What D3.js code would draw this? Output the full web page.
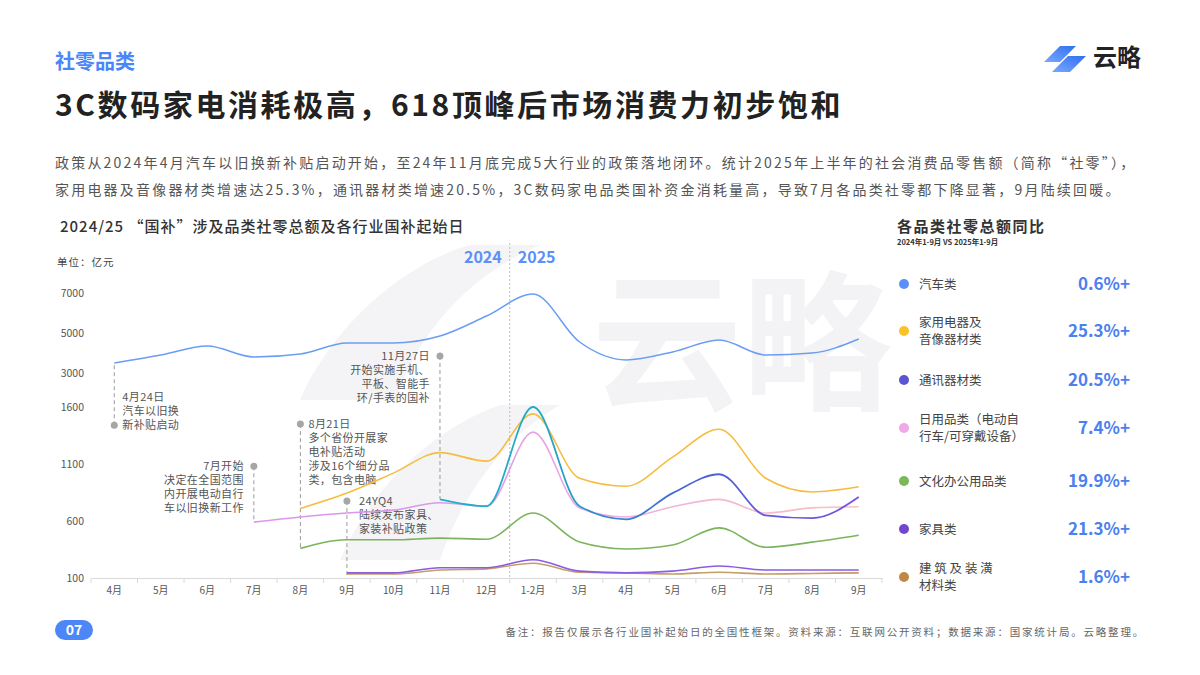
<!DOCTYPE html>
<html>
<head>
<meta charset="utf-8">
<title>社零品类</title>
<script src="https://d3js.org/d3.v7.min.js"></script>
<style>
  body { margin: 0; background: #fff; }
  svg { display: block; font-family: "Noto Sans CJK SC", "Noto Sans", sans-serif; }
  .tick text { fill: #555; }
</style>
</head>
<body>
<div id="chart"></div>
<script>
// ---- data ----
const categories = ["4月","5月","6月","7月","8月","9月","10月","11月","12月","1-2月","3月","4月","5月","6月","7月","8月","9月"];
const yTicks = [100, 600, 1100, 1600, 3000, 5000, 7000];

const car       = [3500,3900,4350,3800,3950,4500,4500,4850,5850,6950,4550,3650,4050,4650,3900,4000,4700];
const appliance = [null,null,null,null,710,845,1020,1200,1125,1540,975,905,1160,1405,975,855,900];
const comm      = [null,null,null,null,null,null,null,790,730,1600,730,615,845,1010,650,625,810];
const daily     = [null,null,null,590,635,670,695,760,730,1380,715,635,725,790,670,715,725];
const office    = [null,null,null,null,360,435,435,450,440,670,415,355,390,540,370,415,475];
const furniture = [null,null,null,null,null,145,145,190,190,260,160,145,160,205,170,170,170];
const building  = [null,null,null,null,null,135,135,170,180,230,150,145,135,150,135,140,145];

const legendNames = [["汽车类"],["家用电器及","音像器材类"],["通讯器材类"],["日用品类（电动自","行车/可穿戴设备）"],["文化办公用品类"],["家具类"],["建 筑 及 装 潢","材料类"]];
const legendValues = ["0.6%+","25.3%+","20.5%+","7.4%+","19.9%+","21.3%+","1.6%+"];

// annotations: category index, dot value, value where dashed line ends, text lines
const annoIdx  = [0, 7, 3, 4, 5];
const annoDot  = [1440, 3850, 1080, 1450, 775];
const annoEnd  = [3500, 790, 590, 360, 100];
const annoText = [
  ["4月24日","汽车以旧换","新补贴启动"],
  ["11月27日","开始实施手机、","平板、智能手","环/手表的国补"],
  ["7月开始","决定在全国范围","内开展电动自行","车以旧换新工作"],
  ["8月21日","多个省份开展家","电补贴活动","涉及16个细分品","类，包含电脑"],
  ["24YQ4","陆续发布家具、","家装补贴政策"]
];
// layout for annotation text: anchor side, dx, first-line offset in lines
const annoSide = ["start","end","end","start","start"];
const annoDx   = [8, -10, -10, 8, 12];
const annoLine0 = [-2, 0, 0, 0, 0];

// ---- page ----
const W = 1200, H = 675;
const svg = d3.select("#chart").append("svg").attr("width", W).attr("height", H);

const defs = svg.append("defs");
function grad(id, stops) {
  const g = defs.append("linearGradient").attr("id", id)
    .attr("gradientUnits", "userSpaceOnUse").attr("x1", 430).attr("x2", 870).attr("y1", 0).attr("y2", 0);
  stops.forEach(s => g.append("stop").attr("offset", s[0]).attr("stop-color", s[1]));
}
grad("gComm", [[0, "#1fb3c8"], [0.25, "#22a9c9"], [0.6, "#4a63d4"], [1, "#7d4fe2"]]);
grad("gDaily", [[0, "#dc97ea"], [0.5, "#f2b2dc"], [1, "#f8c4bc"]]);
const lg = defs.append("linearGradient").attr("id", "gLogo").attr("x1", 0).attr("x2", 1).attr("y1", 1).attr("y2", 0);
lg.append("stop").attr("offset", 0).attr("stop-color", "#7aa8ff");
lg.append("stop").attr("offset", 1).attr("stop-color", "#2f6ff0");

// watermark
const wm = svg.append("g").attr("fill", "#f4f4f6");
wm.append("path").attr("d", "M300,400 C330,330 400,265 470,245 L540,245 C470,275 420,330 395,400 Z");
wm.append("path").attr("d", "M340,560 C370,490 430,430 500,405 L560,405 C500,440 460,500 440,560 Z");
wm.append("text").attr("x", 592).attr("y", 398).attr("font-size", 150).attr("font-weight", 700)
  .attr("fill", "#f3f3f5").text("云略");

// header
svg.append("text").attr("x", 55).attr("y", 69).attr("font-size", 20).attr("font-weight", 700)
  .attr("fill", "#4a86f7").text("社零品类");
svg.append("text").attr("x", 55).attr("y", 116).attr("font-size", 30).attr("font-weight", 700)
  .attr("letter-spacing", 2.6).attr("fill", "#222").text("3C数码家电消耗极高，618顶峰后市场消费力初步饱和");

// logo
const logo = svg.append("g").attr("fill", "url(#gLogo)");
logo.append("path").attr("d", "M1060,46 L1076,46 L1060,62 L1044,62 Z");
logo.append("path").attr("d", "M1068,56 L1086,56 L1070,72 L1052,72 Z");
svg.append("text").attr("x", 1093).attr("y", 66).attr("font-size", 24).attr("font-weight", 700)
  .attr("fill", "#222").text("云略");

// paragraph
const para = [
  "政策从2024年4月汽车以旧换新补贴启动开始，至24年11月底完成5大行业的政策落地闭环。统计2025年上半年的社会消费品零售额（简称“社零”），",
  "家用电器及音像器材类增速达25.3%，通讯器材类增速20.5%，3C数码家电品类国补资金消耗量高，导致7月各品类社零都下降显著，9月陆续回暖。"
];
para.forEach((t, i) => svg.append("text").attr("x", 55).attr("y", 168 + i * 27)
  .attr("font-size", 14).attr("letter-spacing", 2.2).attr("fill", "#555").text(t));

// chart title
svg.append("text").attr("x", 60).attr("y", 232).attr("font-size", 15).attr("font-weight", 500)
  .attr("letter-spacing", 1).attr("fill", "#333").text("2024/25 “国补”涉及品类社零总额及各行业国补起始日");
svg.append("text").attr("x", 57).attr("y", 266).attr("font-size", 10.5).attr("letter-spacing", 1)
  .attr("fill", "#444").text("单位：亿元");

// scales
const x = d3.scaleBand().domain(d3.range(categories.length)).range([91, 882]).paddingInner(0);
const xc = i => x(i) + x.bandwidth() / 2;
const y = d3.scaleLinear().domain(yTicks).range([578, 521, 464, 407, 373, 333, 293]);

// y axis
const yAxis = svg.append("g").attr("transform", "translate(84,0)")
  .call(d3.axisLeft(y).tickValues(yTicks).tickSize(0).tickPadding(0).tickFormat(d3.format("d")));
yAxis.select(".domain").remove();
yAxis.selectAll("text").attr("font-size", 10.5).attr("fill", "#444").attr("font-family", "Noto Sans CJK SC");

// x axis
const xAxis = svg.append("g").attr("transform", "translate(0,578)")
  .call(d3.axisBottom(x).tickSize(0).tickPadding(9).tickFormat(i => categories[i]));
xAxis.select(".domain").attr("stroke", "#d9d9d9").attr("stroke-width", 1.2);
xAxis.selectAll("text").attr("font-size", 10).attr("fill", "#555").attr("font-family", "Noto Sans CJK SC");
svg.append("g").selectAll("line").data(d3.range(categories.length + 1)).join("line")
  .attr("x1", i => i < categories.length ? x(i) : x(i - 1) + x.bandwidth())
  .attr("x2", i => i < categories.length ? x(i) : x(i - 1) + x.bandwidth())
  .attr("y1", 578).attr("y2", 583).attr("stroke", "#d9d9d9");

// year divider
const divX = x(9);
svg.append("line").attr("x1", divX).attr("x2", divX).attr("y1", 243).attr("y2", 578)
  .attr("stroke", "#bdbdbd").attr("stroke-dasharray", "2,2");
svg.append("text").attr("x", divX - 8).attr("y", 263).attr("text-anchor", "end").attr("font-size", 16)
  .attr("font-weight", 700).attr("fill", "#5b8ff9").text("2024");
svg.append("text").attr("x", divX + 8).attr("y", 263).attr("font-size", 16)
  .attr("font-weight", 700).attr("fill", "#5b8ff9").text("2025");

// annotations
const anno = svg.append("g");
annoIdx.forEach((ci, k) => {
  const ax = xc(ci);
  anno.append("line").attr("x1", ax).attr("x2", ax).attr("y1", y(annoDot[k])).attr("y2", y(annoEnd[k]))
    .attr("stroke", "#9a9a9a").attr("stroke-dasharray", "4,3");
  anno.append("circle").attr("cx", ax).attr("cy", y(annoDot[k])).attr("r", 3.5).attr("fill", "#a6a6a6");
  annoText[k].forEach((t, j) => {
    anno.append("text").attr("x", ax + annoDx[k]).attr("y", y(annoDot[k]) + (annoLine0[k] + j) * 14 + 4)
      .attr("text-anchor", annoSide[k]).attr("font-size", 11).attr("letter-spacing", 0.4)
      .attr("fill", "#555").text(t);
  });
});

// lines
const series = [
  { v: car,       c: "#6b9df3", w: 1.5 },
  { v: building,  c: "#c89c68", w: 1.6 },
  { v: furniture, c: "#8b5be0", w: 1.6 },
  { v: office,    c: "#7bb45c", w: 1.6 },
  { v: daily,     c: "url(#gDaily)", w: 1.6 },
  { v: appliance, c: "#f5bd3f", w: 1.6 },
  { v: comm,      c: "url(#gComm)", w: 1.8 }
];
const line = d3.line().defined(d => d[1] != null).x(d => xc(d[0])).y(d => y(d[1])).curve(d3.curveMonotoneX);
svg.append("g").selectAll("path").data(series).join("path")
  .attr("d", s => line(s.v.map((v, i) => [i, v])))
  .attr("fill", "none").attr("stroke", s => s.c).attr("stroke-width", s => s.w);

// legend panel
svg.append("text").attr("x", 897).attr("y", 232).attr("font-size", 15).attr("font-weight", 700)
  .attr("letter-spacing", 1.5).attr("fill", "#333").text("各品类社零总额同比");
svg.append("text").attr("x", 897).attr("y", 245).attr("font-size", 7.5).attr("font-weight", 700)
  .attr("fill", "#333").text("2024年1-9月 VS 2025年1-9月");

const dotColors = ["#5b8ff9", "#f7c22a", "#5a55d2", "#f0a8e6", "#7cb85a", "#7346d0", "#c08845"];
const rowY = [284, 331, 380, 428, 481, 529, 577];
legendNames.forEach((names, i) => {
  const g = svg.append("g");
  g.append("circle").attr("cx", 904).attr("cy", rowY[i]).attr("r", 5).attr("fill", dotColors[i]);
  names.forEach((n, j) => {
    g.append("text").attr("x", 919).attr("y", rowY[i] + 4.5 + (j - (names.length - 1) / 2) * 17)
      .attr("font-size", 12.5).attr("fill", "#444").text(n);
  });
  g.append("text").attr("x", 1130).attr("y", rowY[i] + 6).attr("text-anchor", "end")
    .attr("font-size", 17).attr("font-weight", 700).attr("fill", "#4b80f0").text(legendValues[i]);
});

// footer
svg.append("rect").attr("x", 55).attr("y", 620).attr("width", 38).attr("height", 20).attr("rx", 10)
  .attr("fill", "#4d86f7");
svg.append("text").attr("x", 74).attr("y", 635).attr("text-anchor", "middle").attr("font-size", 14)
  .attr("font-weight", 700).attr("fill", "#fff").text("07");
svg.append("text").attr("x", 1145).attr("y", 636).attr("text-anchor", "end").attr("font-size", 10.5)
  .attr("letter-spacing", 1.8).attr("fill", "#666")
  .text("备注：报告仅展示各行业国补起始日的全国性框架。资料来源：互联网公开资料；数据来源：国家统计局。云略整理。");
</script>
</body>
</html>
